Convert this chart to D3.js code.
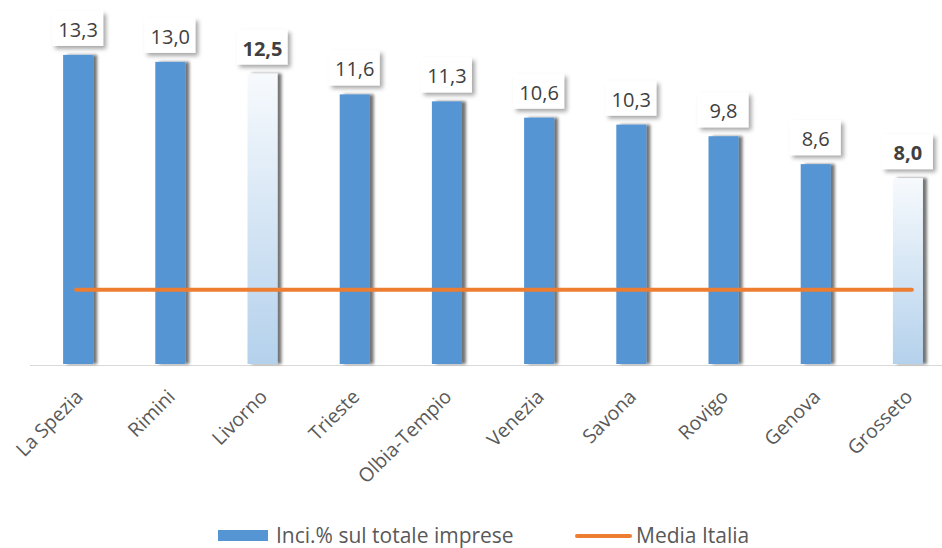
<!DOCTYPE html>
<html>
<head>
<meta charset="utf-8">
<script src="https://cdn.jsdelivr.net/npm/d3@7"></script>
<style>
    body { margin: 0; background: #fff; }
    text { font-family: "Open Sans", sans-serif; }
</style>
</head>
<body>
<div id="chart"></div>
<script>
// data
const province = ["La Spezia", "Rimini", "Livorno", "Trieste", "Olbia-Tempio", "Venezia", "Savona", "Rovigo", "Genova", "Grosseto"];
const incidenza = [13.3, 13.0, 12.5, 11.6, 11.3, 10.6, 10.3, 9.8, 8.6, 8.0];
const highlighted = ["Livorno", "Grosseto"];
const mediaItalia = 3.2;
const legendLabels = ["Inci.% sul totale imprese", "Media Italia"];

const ctx = {
    w: 942, h: 548,
    baseline: 364,
    pxPerUnit: 23.24,
    x0: 32, x1: 954,
    barW: 30,
    blue: "#5595d4",
    orange: "#ed7d31"
};

function fmt(v) {
    return v.toFixed(1).replace(".", ",");
}

function draw() {
    let svg = d3.select("#chart").append("svg")
        .attr("width", ctx.w)
        .attr("height", ctx.h);

    let defs = svg.append("defs");
    let barShadow = defs.append("filter").attr("id", "barShadow")
        .attr("x", "-20%").attr("y", "-5%").attr("width", "160%").attr("height", "110%");
    barShadow.append("feDropShadow")
        .attr("dx", 4).attr("dy", 0).attr("stdDeviation", 1.8)
        .attr("flood-color", "#000").attr("flood-opacity", 0.55);

    let boxShadow = defs.append("filter").attr("id", "boxShadow")
        .attr("x", "-20%").attr("y", "-20%").attr("width", "150%").attr("height", "160%");
    boxShadow.append("feDropShadow")
        .attr("dx", 3).attr("dy", 3).attr("stdDeviation", 2)
        .attr("flood-color", "#000").attr("flood-opacity", 0.35);

    let grad = defs.append("linearGradient").attr("id", "lightGrad")
        .attr("x1", 0).attr("y1", 0).attr("x2", 0).attr("y2", 1);
    grad.append("stop").attr("offset", "0%").attr("stop-color", "#f7fafd");
    grad.append("stop").attr("offset", "100%").attr("stop-color", "#b4d1ec");

    let x = d3.scaleBand()
        .domain(province)
        .range([ctx.x0, ctx.x1]);
    let y = d3.scaleLinear()
        .domain([0, 1])
        .range([ctx.baseline, ctx.baseline - ctx.pxPerUnit]);

    // axis line
    svg.append("line")
        .attr("x1", 30).attr("x2", ctx.w)
        .attr("y1", ctx.baseline + 1.5).attr("y2", ctx.baseline + 1.5)
        .attr("stroke", "#d9d9d9")
        .attr("stroke-width", 1.2);

    // bars
    let bars = svg.append("g");
    bars.selectAll("rect")
        .data(province)
        .enter()
        .append("rect")
        .attr("x", (d) => x(d) + x.bandwidth() / 2 - ctx.barW / 2)
        .attr("y", (d, i) => y(incidenza[i]))
        .attr("width", ctx.barW)
        .attr("height", (d, i) => y(0) - y(incidenza[i]))
        .attr("fill", (d) => highlighted.includes(d) ? "url(#lightGrad)" : ctx.blue)
        .attr("filter", "url(#barShadow)");

    // media italia line
    svg.append("line")
        .attr("x1", x(province[0]) + x.bandwidth() / 2 - 2)
        .attr("x2", x(province[province.length - 1]) + x.bandwidth() / 2 + 4)
        .attr("y1", y(mediaItalia))
        .attr("y2", y(mediaItalia))
        .attr("stroke", ctx.orange)
        .attr("stroke-width", 4)
        .attr("stroke-linecap", "round");

    // value labels in boxes
    let labels = svg.append("g");
    let lab = labels.selectAll("g")
        .data(province)
        .enter()
        .append("g")
        .attr("transform", (d, i) => "translate(" + (x(d) + x.bandwidth() / 2) + "," + (y(incidenza[i]) - 9) + ")");
    lab.append("rect")
        .attr("x", -26)
        .attr("y", -35)
        .attr("width", 51)
        .attr("height", 35)
        .attr("fill", "#fff")
        .attr("filter", "url(#boxShadow)");
    lab.append("text")
        .attr("text-anchor", "middle")
        .attr("y", -9)
        .style("font-size", "20px")
        .style("font-weight", (d) => highlighted.includes(d) ? "bold" : "normal")
        .attr("fill", "#404040")
        .text((d, i) => fmt(incidenza[i]));

    // category labels
    svg.append("g").selectAll("text")
        .data(province)
        .enter()
        .append("text")
        .attr("transform", (d) => "translate(" + (x(d) + x.bandwidth() / 2 + 6) + "," + (ctx.baseline + 34) + ") rotate(-45)")
        .attr("text-anchor", "end")
        .style("font-size", "19.5px")
        .attr("fill", "#595959")
        .text((d) => d);

    // legend
    let legendG = svg.append("g").attr("transform", "translate(0,536)");
    legendG.append("rect")
        .attr("x", 218).attr("y", -6)
        .attr("width", 50).attr("height", 11)
        .attr("fill", ctx.blue);
    legendG.append("text")
        .attr("x", 276).attr("y", 7)
        .style("font-size", "21px")
        .attr("fill", "#595959")
        .text(legendLabels[0]);
    legendG.append("line")
        .attr("x1", 577).attr("x2", 630)
        .attr("y1", 0).attr("y2", 0)
        .attr("stroke", ctx.orange)
        .attr("stroke-width", 4)
        .attr("stroke-linecap", "round");
    legendG.append("text")
        .attr("x", 636).attr("y", 7)
        .style("font-size", "21px")
        .attr("fill", "#595959")
        .text(legendLabels[1]);
}

draw();
</script>
</body>
</html>
